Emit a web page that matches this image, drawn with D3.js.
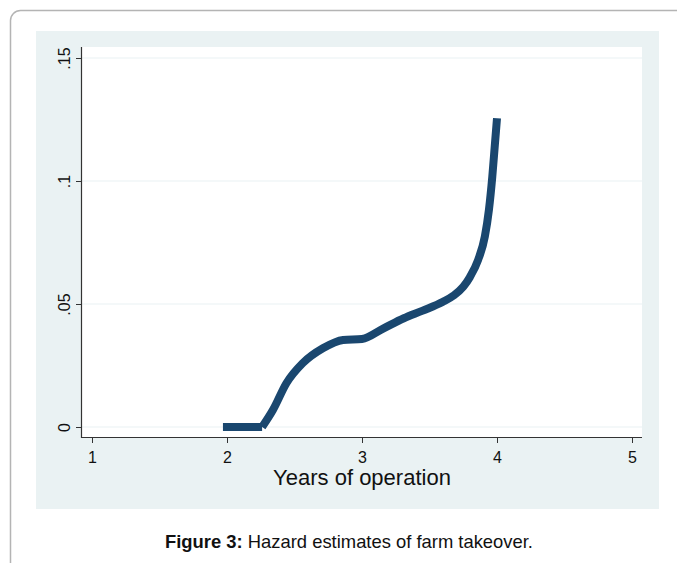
<!DOCTYPE html>
<html lang="en">
<head>
  <meta charset="UTF-8">
  <title>Hazard estimates of farm takeover</title>
  <style>
    html, body {
      margin: 0;
      overflow: hidden;
      background: #ffffff;
    }

    svg {
      display: block;
      font-family: "Liberation Sans", Arial, Helvetica, sans-serif;
    }
  </style>
</head>
<body>
  <svg width="677" height="563"></svg>
</body>
<script src="https://d3js.org/d3.v7.min.js"></script>
<script type="text/javascript">
  // values
  const years  = [1.97, 2.10, 2.20, 2.26, 2.34, 2.44, 2.56, 2.71, 2.86, 3.00, 3.16,
                  3.31, 3.45, 3.60, 3.68, 3.75, 3.80, 3.86, 3.91, 3.94, 3.965, 3.985, 4.00]
  const hazard = [0, 0, 0, 0, 0.0069, 0.0178, 0.0259, 0.0320, 0.0354, 0.0358, 0.0401,
                  0.0442, 0.0473, 0.0509, 0.0535, 0.0570, 0.0610, 0.0679, 0.0774, 0.0882, 0.1017, 0.1153, 0.1255]
  const xTicks = [1, 2, 3, 4, 5]
  const yTicks = [0, 0.05, 0.1, 0.15]
  const yTickLabels = ['0', '.05', '.1', '.15']
  const xTitle = 'Years of operation'
  const captionBold = 'Figure 3:'
  const captionText = ' Hazard estimates of farm takeover.'

  const svg = d3.select('svg')

  // layout
  const graph = { left: 36, top: 31, right: 659, bottom: 509 }
  const plot = { left: 82, top: 47, right: 642, bottom: 437 }
  const navy = '#1a476f'
  const bg = '#eaf2f3'
  const axisColor = '#333333'

  // outer frame (only its top-left corner shows)
  svg.append('rect')
    .attr('x', 10.5).attr('y', 10.5)
    .attr('width', 720).attr('height', 620)
    .attr('rx', 10)
    .attr('fill', 'none')
    .attr('stroke', '#b4b4b4')
    .attr('stroke-width', 1.5)

  svg.append('rect')
    .attr('x', graph.left).attr('y', graph.top)
    .attr('width', graph.right - graph.left)
    .attr('height', graph.bottom - graph.top)
    .attr('fill', bg)

  svg.append('rect')
    .attr('x', plot.left).attr('y', plot.top)
    .attr('width', plot.right - plot.left)
    .attr('height', plot.bottom - plot.top)
    .attr('fill', '#ffffff')

  const x = d3.scaleLinear().domain([1, 5]).range([plot.left + 10, plot.right - 10])
  const y = d3.scaleLinear().domain([0, 0.15]).range([plot.bottom - 10, plot.top + 11])

  // grid
  svg.append('g')
    .selectAll('line')
    .data(yTicks)
    .enter()
    .append('line')
    .attr('x1', plot.left)
    .attr('x2', plot.right)
    .attr('y1', d => y(d))
    .attr('y2', d => y(d))
    .attr('stroke', bg)
    .attr('stroke-width', 1.2)

  // hazard curve: flat start drawn straight, the rest smoothed
  const points = years.map((yr, i) => [yr, hazard[i]])
  const riseAt = hazard.lastIndexOf(0)

  const flatLine = d3.line()
    .x(d => x(d[0]))
    .y(d => y(d[1]))

  const smoothLine = d3.line()
    .x(d => x(d[0]))
    .y(d => y(d[1]))
    .curve(d3.curveMonotoneX)

  const curve = svg.append('g')
    .attr('fill', 'none')
    .attr('stroke', navy)
    .attr('stroke-width', 8)
    .attr('stroke-linejoin', 'round')

  curve.append('path')
    .attr('d', flatLine(points.slice(0, riseAt + 1)))

  curve.append('path')
    .attr('d', smoothLine(points.slice(riseAt)))

  // x axis
  const xAxis = svg.append('g')
    .attr('transform', `translate(0,${plot.bottom})`)
    .call(d3.axisBottom(x).tickValues(xTicks).tickSize(6).tickSizeOuter(0).tickFormat(d3.format('d')))

  xAxis.select('.domain').remove()
  xAxis.selectAll('.tick line').attr('stroke', axisColor)
  xAxis.selectAll('.tick text')
    .attr('y', 26)
    .attr('dy', 0)
    .attr('fill', '#111')
    .style('font-size', '16px')
    .style('font-family', '"Liberation Sans", Arial, sans-serif')

  svg.append('line')
    .attr('x1', plot.left).attr('x2', plot.right)
    .attr('y1', plot.bottom + 0.5).attr('y2', plot.bottom + 0.5)
    .attr('stroke', axisColor)
    .attr('stroke-width', 1.2)

  // y axis
  const yAxis = svg.append('g')
    .attr('transform', `translate(${plot.left},0)`)
    .call(d3.axisLeft(y).tickValues(yTicks).tickSize(6).tickSizeOuter(0)
      .tickFormat((d, i) => yTickLabels[i]))

  yAxis.select('.domain').remove()
  yAxis.selectAll('.tick line').attr('stroke', axisColor)
  yAxis.selectAll('.tick text')
    .attr('transform', 'rotate(-90)')
    .attr('x', 0)
    .attr('y', -12)
    .attr('dy', 0)
    .attr('text-anchor', 'middle')
    .attr('fill', '#111')
    .style('font-size', '16px')
    .style('font-family', '"Liberation Sans", Arial, sans-serif')

  svg.append('line')
    .attr('x1', plot.left - 0.5).attr('x2', plot.left - 0.5)
    .attr('y1', plot.top).attr('y2', plot.bottom + 1)
    .attr('stroke', axisColor)
    .attr('stroke-width', 1.2)

  // axis title
  svg.append('text')
    .attr('x', (plot.left + plot.right) / 2)
    .attr('y', 485)
    .attr('text-anchor', 'middle')
    .attr('fill', '#111')
    .style('font-size', '22px')
    .text(xTitle)

  // caption
  const caption = svg.append('text')
    .attr('x', 349)
    .attr('y', 548)
    .attr('text-anchor', 'middle')
    .attr('fill', '#111')
    .style('font-size', '18.4px')

  caption.append('tspan').attr('font-weight', 'bold').text(captionBold)
  caption.append('tspan').text(captionText)
</script>
</html>
